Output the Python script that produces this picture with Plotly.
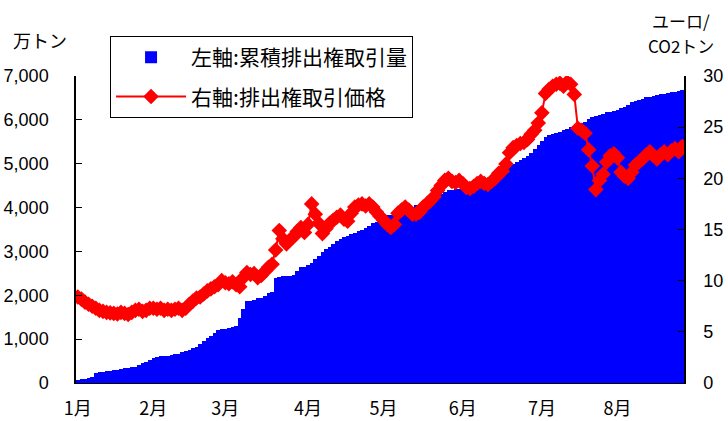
import pandas as pd
import plotly.graph_objects as go

# trading days (Jan 3 - Aug 25, 2005)
dates = [d.strftime("%Y-%m-%d") for d in pd.bdate_range("2005-01-03", "2005-08-25")]

# cumulative traded volume (万トン)
volume = [
    60, 80, 100, 110, 130, 230, 250, 260, 270, 280,
    290, 300, 320, 340, 350, 360, 370, 400, 450, 490,
    520, 560, 590, 610, 615, 620, 630, 650, 670, 700,
    730, 760, 800, 830, 880, 960, 1020, 1080, 1150, 1210,
    1225, 1240, 1260, 1280, 1300, 1480, 1680, 1870, 1880, 1900,
    1930, 1940, 1980, 2060, 2080, 2400, 2420, 2430, 2440, 2450,
    2460, 2550, 2640, 2650, 2700, 2730, 2820, 2900, 2990, 3050,
    3100, 3180, 3230, 3280, 3320, 3360, 3390, 3420, 3460, 3500,
    3530, 3580, 3640, 3680, 3730, 3780, 3820, 3840, 3870, 3890,
    3910, 3950, 3990, 4020, 4050, 4080, 4110, 4140, 4180, 4210,
    4260, 4310, 4360, 4400, 4410, 4415, 4420, 4420, 4430, 4430,
    4440, 4440, 4450, 4460, 4480, 4500, 4560, 4620, 4700, 4800,
    4950, 5000, 5040, 5080, 5120, 5170, 5250, 5330, 5420, 5520,
    5600, 5650, 5680, 5700, 5730, 5760, 5790, 5830, 5860, 5890,
    5920, 5960, 6020, 6070, 6090, 6110, 6140, 6170, 6190, 6210,
    6230, 6260, 6300, 6350, 6400, 6420, 6450, 6480, 6510, 6530,
    6550, 6560, 6580, 6600, 6610, 6630, 6640, 6660, 6680,
]

# price (ユーロ/CO2トン)
price = [
    8.4, 8.2, 7.9, 7.7, 7.5, 7.3, 7.1, 7.0, 6.9, 6.85,
    6.8, 6.75, 6.9, 6.8, 6.7, 6.9, 7.1, 7.2, 7.0, 7.1,
    7.3, 7.3, 7.2, 7.3, 7.1, 7.2, 7.1, 7.2, 7.3, 7.1,
    7.3, 7.7, 8.0, 8.3, 8.4, 8.7, 9.0, 9.2, 9.4, 9.6,
    10.0, 9.8, 9.7, 9.9, 9.6, 9.4, 10.3, 10.8, 10.6, 10.7,
    10.3, 10.5, 10.9, 11.3, 11.6, 13.0, 14.9, 14.1, 13.6, 14.0,
    14.3, 14.8, 15.2, 14.7, 15.5, 17.5, 16.5, 15.6, 14.6, 15.1,
    15.6, 15.9, 16.2, 16.4, 16.0, 15.8, 16.6, 17.2, 17.4, 17.5,
    17.3, 17.5, 17.2, 16.7, 16.3, 15.9, 15.5, 15.2, 15.5, 16.6,
    16.9, 17.2, 16.9, 16.5, 16.5, 16.7, 17.2, 17.5, 17.8, 18.2,
    18.8, 19.3, 19.8, 20.0, 19.7, 19.6, 19.8, 19.5, 19.1, 19.0,
    19.2, 19.5, 19.7, 19.5, 19.4, 19.7, 20.0, 20.5, 20.7, 21.4,
    22.5, 23.0, 23.2, 23.4, 23.5, 23.8, 24.3, 24.7, 25.4, 26.4,
    28.3, 28.7, 29.0, 29.2, 29.3, 29.0, 29.4, 29.2, 28.2, 24.9,
    24.7, 24.4, 22.8, 21.2, 18.9, 19.8, 20.4, 21.6, 22.2, 22.4,
    22.0, 20.6, 20.2, 20.0, 20.6, 21.3, 21.6, 21.9, 22.3, 22.6,
    22.2, 21.9, 22.3, 22.6, 22.3, 22.7, 22.9, 22.6, 23.1,
]

month_labels = ["1月", "2月", "3月", "4月", "5月", "6月", "7月", "8月"]
left_ticks = [0, 1000, 2000, 3000, 4000, 5000, 6000, 7000]
right_ticks = [0, 5, 10, 15, 20, 25, 30]

assert len(volume) == len(dates) == len(price)

# first trading day of each month
month_first = []
seen = set()
for d in dates:
    m = d[:7]
    if m not in seen:
        seen.add(m)
        month_first.append(d)

JP = "Noto Sans CJK JP"
NUM = "Liberation Sans, Arial"

fig = go.Figure()
fig.add_trace(go.Bar(
    x=dates, y=volume, name="左軸:累積排出権取引量",
    marker=dict(color="#0000FF", line=dict(width=0)),
    yaxis="y", legendgroup="a",
))
fig.add_trace(go.Scatter(
    x=dates, y=price, name="右軸:排出権取引価格",
    mode="lines+markers",
    line=dict(color="#FF0000", width=2),
    marker=dict(symbol="diamond", size=12, color="#FF0000", line=dict(width=0)),
    yaxis="y2", legendgroup="b",
))

fig.update_layout(
    width=728, height=421,
    margin=dict(l=76, r=44, t=76, b=38),
    paper_bgcolor="white", plot_bgcolor="white",
    bargap=0,
    xaxis=dict(
        type="category", range=[-0.5, len(dates) - 0.5],
        tickvals=month_first, ticktext=month_labels,
        ticks="", showline=True, linecolor="black", linewidth=1,
        showgrid=False, zeroline=False, automargin=False,
        tickfont=dict(family=JP, size=18, color="black"),
        ticklabelstandoff=9,
    ),
    yaxis=dict(
        range=[0, 7000], tickvals=left_ticks,
        ticktext=[f"{v:,}" for v in left_ticks],
        ticks="inside", ticklen=6, tickcolor="black",
        showline=True, linecolor="black", linewidth=1.5,
        showgrid=False, zeroline=False, automargin=False,
        tickfont=dict(family=NUM, size=18, color="black"),
        ticklabelstandoff=22,
    ),
    yaxis2=dict(
        range=[0, 30], tickvals=right_ticks, overlaying="y", side="right",
        ticks="inside", ticklen=6, tickcolor="black",
        showline=True, linecolor="black", linewidth=1.5,
        showgrid=False, zeroline=False, automargin=False,
        tickfont=dict(family=NUM, size=18, color="black"),
        ticklabelstandoff=14,
    ),
    showlegend=True,
    legend=dict(
        x=0.056, y=1.13, xanchor="left", yanchor="top",
        bordercolor="black", borderwidth=1, bgcolor="white",
        font=dict(family=JP, size=21, color="black"),
        tracegroupgap=9, itemwidth=70, traceorder="grouped",
    ),
    annotations=[
        dict(text="万トン", xref="paper", yref="paper", x=-0.059, y=1.117,
             xanchor="center", yanchor="middle", showarrow=False,
             font=dict(family=JP, size=18, color="black")),
        dict(text="ユーロ/", xref="paper", yref="paper", x=0.995, y=1.182,
             xanchor="center", yanchor="middle", showarrow=False,
             font=dict(family=JP, size=17, color="black")),
        dict(text="CO2トン", xref="paper", yref="paper", x=0.995, y=1.098,
             xanchor="center", yanchor="middle", showarrow=False,
             font=dict(family=JP, size=17, color="black")),
    ],
)

fig.write_html("out.html")
